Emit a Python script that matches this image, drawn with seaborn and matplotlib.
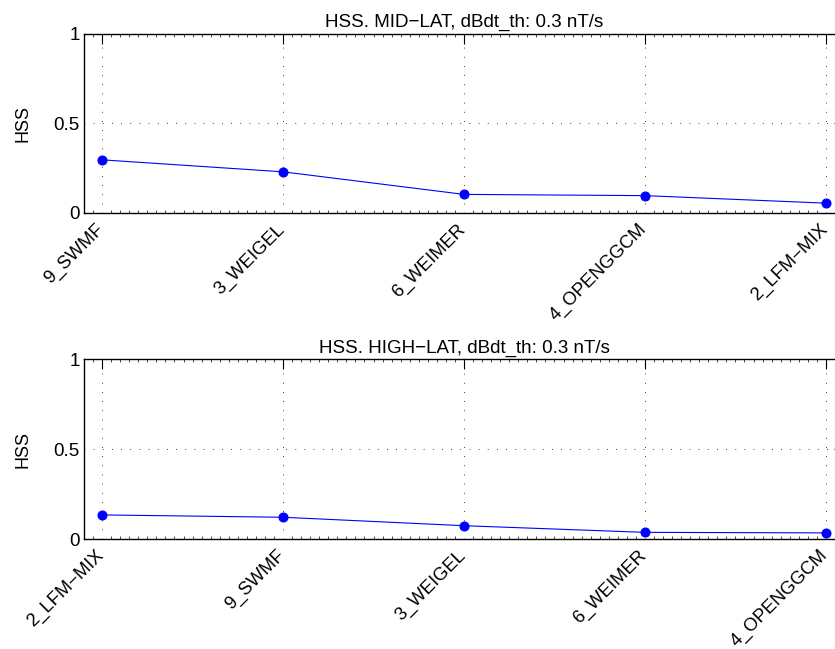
import matplotlib
matplotlib.use("Agg")
import matplotlib.pyplot as plt
import seaborn as sns
import pandas as pd
from matplotlib.ticker import MultipleLocator
from matplotlib.transforms import ScaledTranslation

# ---- data ----
mid_models = ["9_SWMF", "3_WEIGEL", "6_WEIMER", "4_OPENGGCM", "2_LFM\u2212MIX"]
mid_hss = [0.297, 0.230, 0.104, 0.097, 0.055]
high_models = ["2_LFM\u2212MIX", "9_SWMF", "3_WEIGEL", "6_WEIMER", "4_OPENGGCM"]
high_hss = [0.134, 0.121, 0.074, 0.037, 0.034]
titles = ["HSS. MID\u2212LAT, dBdt_th: 0.3 nT/s", "HSS. HIGH\u2212LAT, dBdt_th: 0.3 nT/s"]
y_ticks = [0, 0.5, 1]
y_tick_labels = ["0", "0.5", "1"]

sns.set_theme(style="white")
plt.rcParams["font.family"] = ["Liberation Sans", "DejaVu Sans"]
for k in ["text.color", "axes.labelcolor", "xtick.color", "ytick.color"]:
    plt.rcParams[k] = "black"

W, H = 835, 649
fig = plt.figure(figsize=(W / 100, H / 100), dpi=100)
ax1 = fig.add_axes([84 / W, 1 - 213 / H, 760 / W, 179 / H])
ax2 = fig.add_axes([84 / W, 1 - 539 / H, 760 / W, 179.7 / H])

FS = 13.2
for ax, models, vals, title in [(ax1, mid_models, mid_hss, titles[0]),
                                (ax2, high_models, high_hss, titles[1])]:
    df = pd.DataFrame({"pos": list(range(1, len(models) + 1)), "HSS": vals})
    sns.lineplot(data=df, x="pos", y="HSS", ax=ax, color="blue", marker="o",
                 markersize=6.5, markeredgecolor="blue", markerfacecolor="blue",
                 linewidth=0.8)
    ax.set_xlim(0.9, len(models) + 0.1)
    ax.set_ylim(0, 1)
    ax.set_xticks(df["pos"])
    ax.set_xticklabels(models, rotation=45, ha="right", rotation_mode="anchor",
                       fontsize=FS)
    ax.set_yticks(y_ticks)
    ax.set_yticklabels(y_tick_labels, fontsize=13.5)
    ax.xaxis.set_minor_locator(MultipleLocator(0.05))
    ax.tick_params(which="major", direction="in", length=7, width=0.8,
                   top=True, right=True, color="black", pad=3)
    ax.tick_params(axis="x", which="major", pad=7)
    ax.tick_params(axis="x", which="minor", direction="in", length=2, width=0.5,
                   top=True, bottom=True, color="black")
    ax.grid(True, which="major", color="black", linestyle=(0, (1, 10)),
            linewidth=0.6)
    for s in ax.spines.values():
        s.set_color("black")
        s.set_linewidth(1.0)
    ax.set_xlabel("")
    ax.set_ylabel("HSS", fontsize=13, labelpad=16)
    ax.set_title(title, fontsize=13.5, pad=5, color="black")
    off = ScaledTranslation(-7 / 100, 2 / 100, fig.dpi_scale_trans)
    for lbl in ax.get_xticklabels():
        lbl.set_transform(lbl.get_transform() + off)

fig.savefig("out.png", dpi=100)
